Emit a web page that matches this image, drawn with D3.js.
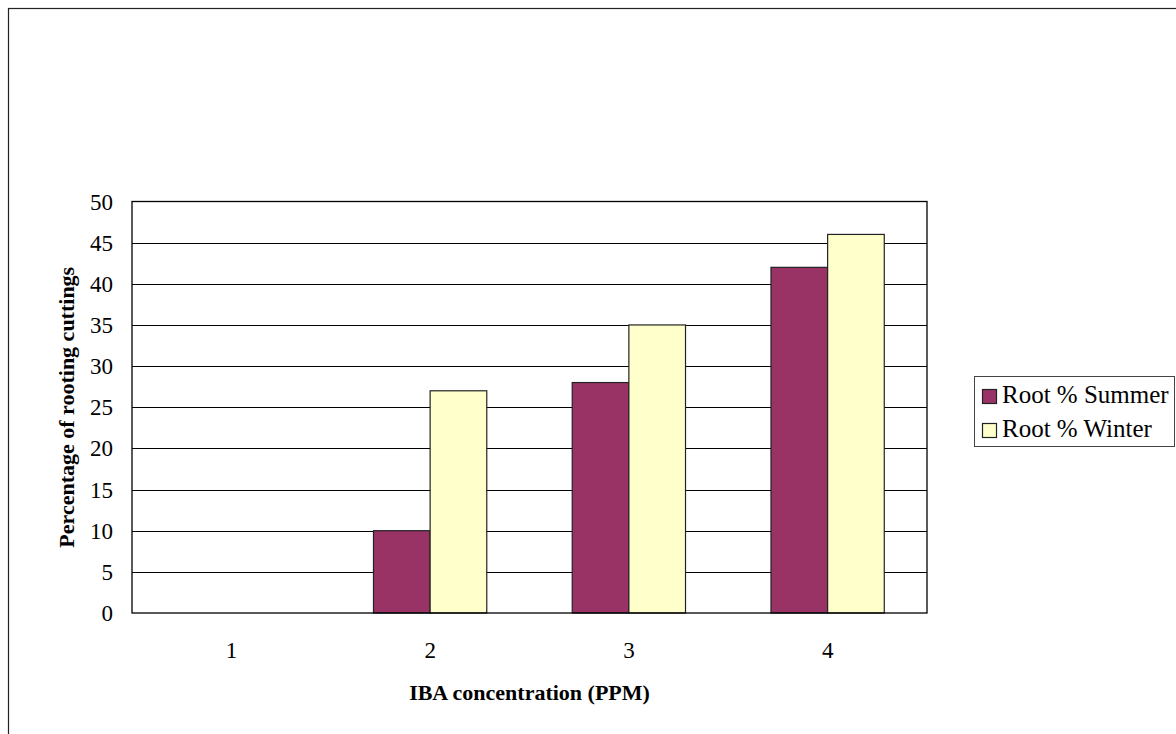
<!DOCTYPE html>
<html>
<head>
<meta charset="utf-8">
<script src="https://cdn.jsdelivr.net/npm/d3@7"></script>
<style>
  html, body { margin: 0; padding: 0; background: #fff; }
  svg { display: block; }
</style>
</head>
<body>
<svg id="chart" width="1176" height="734"></svg>
<script>
// IBA concentration levels and rooting percentages per season
const categories = ["1", "2", "3", "4"];
const seriesNames = ["Root % Summer", "Root % Winter"];
const summerValues = [0, 10, 28, 42];
const winterValues = [0, 27, 35, 46];
const yTicks = [0, 5, 10, 15, 20, 25, 30, 35, 40, 45, 50];
const seriesColors = ["#993366", "#FFFFCC"];

const svg = d3.select("#chart");
const W = 1176, H = 734;
const plot = { left: 132, top: 201.5, right: 927, bottom: 613 };

// outer chart frame (runs off the right and bottom edges)
svg.append("rect")
  .attr("x", 8.5).attr("y", 8.5)
  .attr("width", W + 20).attr("height", H + 20)
  .attr("fill", "none").attr("stroke", "#222").attr("stroke-width", 1.2);

const x = d3.scaleBand().domain(categories)
  .range([plot.left, plot.right]).paddingInner(0.43).paddingOuter(0.215);
const xs = d3.scaleBand().domain(seriesNames).range([0, x.bandwidth()]);
const y = d3.scaleLinear().domain([0, 50]).range([plot.bottom, plot.top]);

// horizontal gridlines
svg.append("g").selectAll("line").data(yTicks.filter(d => d > 0 && d < 50)).join("line")
  .attr("x1", plot.left).attr("x2", plot.right)
  .attr("y1", d => Math.round(y(d)) + 0.5).attr("y2", d => Math.round(y(d)) + 0.5)
  .attr("stroke", "#000").attr("stroke-width", 1);

// bars
const rows = categories.map((c, i) => ({ cat: c, vals: [summerValues[i], winterValues[i]] }));
const groups = svg.append("g").selectAll("g").data(rows).join("g")
  .attr("transform", d => `translate(${x(d.cat)},0)`);
groups.selectAll("rect").data(d => d.vals.map((v, j) => ({ v, s: seriesNames[j], j })))
  .join("rect")
  .filter(d => d.v > 0)
  .attr("x", d => xs(d.s))
  .attr("y", d => y(d.v))
  .attr("width", xs.bandwidth())
  .attr("height", d => y(0) - y(d.v))
  .attr("fill", d => seriesColors[d.j])
  .attr("stroke", "#222").attr("stroke-width", 1.2);

// plot frame
svg.append("rect")
  .attr("x", plot.left).attr("y", plot.top)
  .attr("width", plot.right - plot.left).attr("height", plot.bottom - plot.top)
  .attr("fill", "none").attr("stroke", "#000").attr("stroke-width", 1.3);

// y axis labels
const yAxis = d3.axisLeft(y).tickValues(yTicks).tickSize(0).tickPadding(19);
const gy = svg.append("g").attr("transform", `translate(${plot.left},0)`).call(yAxis);
gy.select(".domain").remove();
gy.selectAll("text")
  .attr("font-family", "'Liberation Serif', 'Times New Roman', serif")
  .attr("font-size", 23).attr("fill", "#000").attr("dy", "0.33em");

// x axis labels
const xAxis = d3.axisBottom(x).tickSize(0).tickPadding(0);
const gx = svg.append("g").attr("transform", `translate(0,${plot.bottom})`).call(xAxis);
gx.select(".domain").remove();
gx.selectAll("text")
  .attr("font-family", "'Liberation Serif', 'Times New Roman', serif")
  .attr("font-size", 23).attr("fill", "#000").attr("dy", null).attr("y", 45);

// axis titles
svg.append("text")
  .attr("x", (plot.left + plot.right) / 2).attr("y", 700)
  .attr("text-anchor", "middle")
  .attr("font-family", "'Liberation Serif', 'Times New Roman', serif")
  .attr("font-weight", "bold").attr("font-size", 22)
  .text("IBA concentration (PPM)");

svg.append("text")
  .attr("transform", `translate(74,${(plot.top + plot.bottom) / 2}) rotate(-90)`)
  .attr("text-anchor", "middle")
  .attr("font-family", "'Liberation Serif', 'Times New Roman', serif")
  .attr("font-weight", "bold").attr("font-size", 22)
  .text("Percentage of rooting cuttings");

// legend
const legend = svg.append("g");
legend.append("rect")
  .attr("x", 974.5).attr("y", 376.5).attr("width", 200).attr("height", 70)
  .attr("fill", "#fff").attr("stroke", "#444").attr("stroke-width", 1);
const items = legend.selectAll("g.item").data(seriesNames).join("g")
  .attr("class", "item")
  .attr("transform", (d, i) => `translate(982,${389 + i * 34})`);
items.append("rect")
  .attr("x", 0.5).attr("y", 0.5).attr("width", 14).attr("height", 14)
  .attr("fill", (d, i) => seriesColors[i]).attr("stroke", "#222").attr("stroke-width", 1.2);
items.append("text")
  .attr("x", 20).attr("y", 14)
  .attr("font-family", "'Liberation Serif', 'Times New Roman', serif")
  .attr("font-size", 25).attr("fill", "#000")
  .text(d => d);
</script>
</body>
</html>
